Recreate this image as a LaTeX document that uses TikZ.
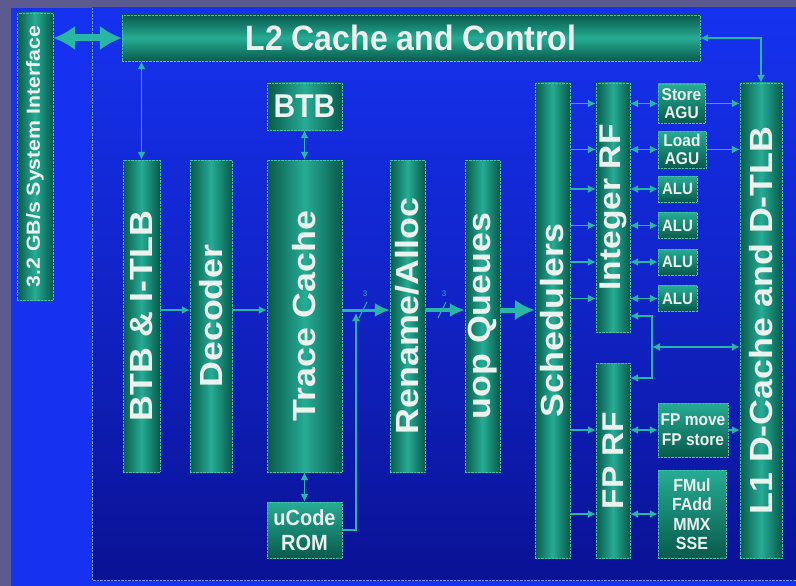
\documentclass[tikz,border=0pt]{standalone}
\usepackage{fontspec}
\setmainfont{Liberation Sans}
\usepackage{graphicx}
\usetikzlibrary{arrows.meta}

\definecolor{slate}{RGB}{90,90,142}
\definecolor{brightblue}{RGB}{22,50,240}
\definecolor{navy}{RGB}{10,18,148}
\definecolor{tealdark}{RGB}{8,90,76}
\definecolor{teallight}{RGB}{38,172,148}
\definecolor{wire}{RGB}{40,182,166}
\definecolor{rim}{RGB}{70,192,172}
\definecolor{labelwhite}{RGB}{236,242,238}
\definecolor{panelrim}{RGB}{110,150,255}

\newcommand{\vtext}[1]{\rotatebox{90}{\scalebox{1.12}[1]{#1}}}
\newcommand{\htext}[1]{\scalebox{1}[1.1]{#1}}

\begin{document}
\begin{tikzpicture}[x=1pt,y=-1pt,
        bar/.style={draw=rim, densely dotted, inner sep=0pt,
                        left color=tealdark, right color=tealdark, middle color=teallight,
                        text=labelwhite, font=\bfseries\fontsize{32}{38}\selectfont},
        unit/.style={draw=rim, densely dotted, inner sep=0pt,
                        top color=teallight, bottom color=tealdark,
                        text=labelwhite, align=center, font=\bfseries\fontsize{15.5}{18}\selectfont},
        link/.style={wire, line width=1.3pt, -{Latex[length=8pt,width=8pt]}},
        dlink/.style={link, {Latex[length=8pt,width=8pt]}-{Latex[length=8pt,width=8pt]}},
        bus/.style={wire, line width=3pt, -{Latex[length=15pt,width=14pt]}}]
    \useasboundingbox (0,0) rectangle (796,586);
    % background
    \fill[slate] (0,0) rectangle (796,586);
    \fill[brightblue] (11,8) rectangle (796,586);
    \shade[top color=brightblue, bottom color=navy, middle color=brightblue!55!navy] (92,8) rectangle (796,580);
    \draw[panelrim, densely dotted] (92,8) -- (92,580) -- (796,580);

    % front end
    \node[bar, minimum width=36, minimum height=287, font=\bfseries\fontsize{19}{22}\selectfont]
        (sysif) at (35,156.5) {\vtext{3.2 GB/s System Interface}};
    \node[bar, minimum width=578, minimum height=46, left color=tealdark, right color=tealdark,
          top color=tealdark, bottom color=tealdark, middle color=teallight]
        (ltwo) at (411,38) {\htext{L2 Cache and Control}};
    \node[bar, minimum width=37, minimum height=312] (btbtlb) at (141.5,316) {\vtext{BTB \& I-TLB}};
    \node[bar, minimum width=42, minimum height=312] (decoder) at (211,316) {\vtext{Decoder}};
    \node[bar, minimum width=75, minimum height=312] (trace) at (304.5,316) {\vtext{Trace Cache}};
    \node[bar, minimum width=75, minimum height=47, font=\bfseries\fontsize{30}{36}\selectfont]
        (btb) at (304.5,106.5) {\htext{BTB}};
    \node[unit, minimum width=75, minimum height=56, font=\bfseries\fontsize{20}{24.5}\selectfont]
        (ucode) at (304.5,530) {\htext{uCode}\\\htext{ROM}};
    \node[bar, minimum width=35, minimum height=312] (rename) at (407.5,316) {\vtext{Rename/Alloc}};
    \node[bar, minimum width=35, minimum height=312] (uopq) at (482.5,316) {\vtext{uop Queues}};

    % execution
    \node[bar, minimum width=35, minimum height=475] (sched) at (552.5,320.5) {\vtext{Schedulers}};
    \node[bar, minimum width=34, minimum height=249, font=\bfseries\fontsize{30}{36}\selectfont]
        (intrf) at (613,207.5) {\vtext{Integer RF}};
    \node[bar, minimum width=34, minimum height=195, font=\bfseries\fontsize{30}{36}\selectfont]
        (fprf) at (613,460.5) {\vtext{FP RF}};
    \node[unit, minimum width=47, minimum height=39] (store) at (681.5,103.5) {\htext{Store}\\\htext{AGU}};
    \node[unit, minimum width=48, minimum height=37] (load) at (682,149.5) {\htext{Load}\\\htext{AGU}};
    \foreach \i/\y in {1/189,2/225.5,3/262,4/298.5}
        \node[unit, minimum width=39, minimum height=26, font=\bfseries\fontsize{15}{18}\selectfont]
            (alu\i) at (677.5,\y) {\htext{ALU}};
    \node[unit, minimum width=70, minimum height=54, font=\bfseries\fontsize{15.5}{20}\selectfont]
        (fpmove) at (693,430) {\htext{FP move}\\\htext{FP store}};
    \node[unit, minimum width=68, minimum height=88, font=\bfseries\fontsize{16}{19.5}\selectfont]
        (fpmul) at (692,514) {\htext{FMul}\\\htext{FAdd}\\\htext{MMX}\\\htext{SSE}};
    \node[bar, minimum width=42, minimum height=475] (lone) at (761,320.5) {\vtext{L1 D-Cache and D-TLB}};

    % wide arrows
    \draw[wire, line width=7pt, {Latex[length=22pt,width=25pt]}-{Latex[length=22pt,width=25pt]}]
        (sysif.east |- ltwo) -- (ltwo.west);
    \coordinate (flow) at (0,310);
    \draw[link] (btbtlb.east |- flow) -- (decoder.west |- flow);
    \draw[link] (decoder.east |- flow) -- (trace.west |- flow);
    \draw[bus] (trace.east |- flow) -- (rename.west |- flow);
    \draw[bus, line width=3.5pt] (rename.east |- flow) -- (uopq.west |- flow);
    \draw[bus, line width=5pt, -{Latex[length=20pt,width=21pt]}] (uopq.east |- flow) -- (sched.west |- flow);
    % 3 wide markers
    \foreach \m/\x in {wa/363,wb/442} {
        \draw[wire, line width=1pt] (\x-4,318) -- (\x+4,302);
        \node[wire, font=\fontsize{8}{8}\selectfont, inner sep=0pt] (\m) at (\x+2,294) {3};
    }
    \coordinate (merge) at (356,313);
    \draw[link] (ucode.east) -| (merge);

    % vertical links
    \draw[dlink] (btbtlb.north) -- (ltwo.south -| btbtlb.north);
    \draw[dlink] (btb.south) -- (trace.north);
    \draw[dlink] (trace.south) -- (ucode.north);
    \draw[dlink] (ltwo.east) -| (lone.north);

    % integer side
    \foreach \n in {store,load,alu1,alu2,alu3,alu4} {
        \draw[link] (sched.east |- \n) -- (intrf.west |- \n);
        \draw[dlink] (intrf.east |- \n) -- (\n.west);
    }
    \draw[link] (store.east) -- (lone.west |- store);
    \draw[link] (load.east) -- (lone.west |- load);
    \coordinate (jn) at (652,347);
    \draw[dlink] (intrf.east |- 0,316) -| (jn) |- (fprf.east |- 0,378);
    \draw[dlink] (jn) -- (lone.west |- jn);

    % floating point side
    \draw[link] (sched.east |- fpmove) -- (fprf.west |- fpmove);
    \draw[link] (sched.east |- fpmul) -- (fprf.west |- fpmul);
    \draw[dlink] (fprf.east |- fpmove) -- (fpmove.west);
    \draw[dlink] (fprf.east |- fpmul) -- (fpmul.west);
    \draw[link] (fpmove.east) -- (lone.west |- fpmove);
\end{tikzpicture}
\end{document}
